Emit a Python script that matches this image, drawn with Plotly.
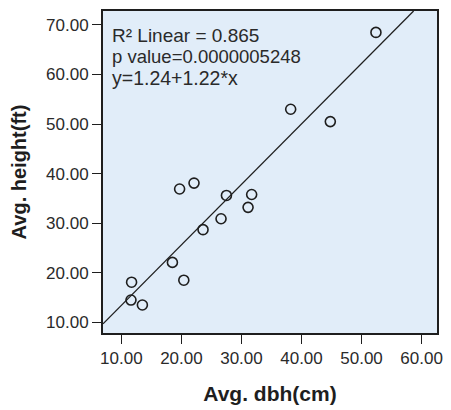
import plotly.graph_objects as go

# Data
dbh_cm = [52.4, 38.2, 44.8, 19.7, 22.1, 27.5, 31.7, 31.1, 26.6, 23.6, 18.5, 20.4, 11.7, 11.6, 13.5]
height_ft = [68.5, 53.0, 50.5, 36.9, 38.1, 35.6, 35.8, 33.2, 30.9, 28.7, 22.1, 18.5, 18.1, 14.5, 13.5]

x_ticks = [10, 20, 30, 40, 50, 60]
y_ticks = [10, 20, 30, 40, 50, 60, 70]

fit_intercept = 1.24
fit_slope = 1.22
r2_text = "R² Linear = 0.865"
p_text = "p value=0.0000005248"
eq_text = "y=1.24+1.22*x"

x_range = [6.94, 62.57]
y_range = [7.85, 72.82]

# fit line endpoints via the fit coefficients, clipped to the plot area
fx0 = x_range[0]
fy0 = fit_intercept + fit_slope * fx0
fx1 = (y_range[1] - fit_intercept) / fit_slope
fy1 = y_range[1]

FONT = "Liberation Sans, Arial, sans-serif"
INK = "#1e1e1e"

fig = go.Figure()
fig.add_trace(go.Scatter(
    x=[fx0, fx1], y=[fy0, fy1], mode="lines",
    line=dict(color=INK, width=1.3), hoverinfo="skip", showlegend=False,
))
fig.add_trace(go.Scatter(
    x=dbh_cm, y=height_ft, mode="markers",
    marker=dict(symbol="circle-open", size=10, color=INK, line=dict(width=1.6, color=INK)),
    showlegend=False,
))

axis_common = dict(
    showgrid=False, zeroline=False,
    showline=True, mirror=True, linewidth=2, linecolor=INK,
    ticks="outside", ticklen=9, tickwidth=1.3, tickcolor=INK,
    tickformat=".2f", tickfont=dict(family=FONT, size=17, color="#2a2a2a"),
)

fig.update_layout(
    width=451, height=410,
    margin=dict(l=103, r=8, t=11, b=76),
    paper_bgcolor="white", plot_bgcolor="#E1EDF9",
    xaxis=dict(range=x_range, tickvals=x_ticks,
               title=dict(text="Avg. dbh(cm)", font=dict(family=FONT, size=21, color=INK, weight="bold"), standoff=19),
               **axis_common),
    yaxis=dict(range=y_range, tickvals=y_ticks,
               title=dict(text="Avg. height(ft)", font=dict(family=FONT, size=20, color=INK, weight="bold"), standoff=14),
               **axis_common),
    font=dict(family=FONT, color=INK),
)

stats_text = (
    f'<span style="font-size:19px">{r2_text}</span><br>'
    f'<span style="font-size:18.5px">{p_text}</span><br>'
    f'<span style="font-size:19.5px">{eq_text}</span>'
)
fig.add_annotation(text=stats_text, xref="paper", yref="paper", x=0.022, y=0.962,
                   xanchor="left", yanchor="top", align="left", showarrow=False,
                   font=dict(family=FONT, color="#2a2a2a", size=16.5))

fig.write_html("out.html")
